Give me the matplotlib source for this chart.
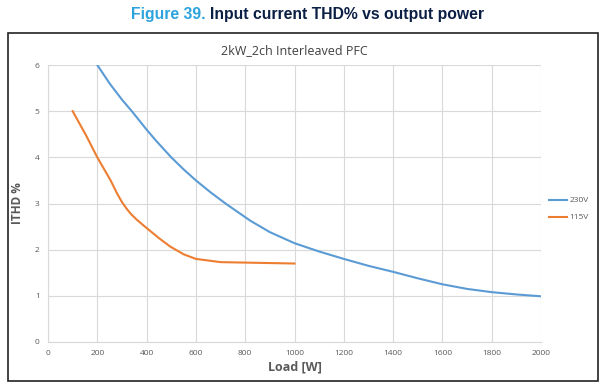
import numpy as np
import matplotlib.pyplot as plt
from matplotlib.patches import Rectangle

# data
load_230 = [200, 250, 300, 340, 400, 440, 500, 550, 600, 660, 720, 820, 900, 1000,
            1100, 1200, 1300, 1400, 1500, 1600, 1700, 1800, 1900, 2000]
thd_230 = [6.0, 5.6, 5.25, 5.0, 4.6, 4.35, 4.0, 3.74, 3.5, 3.24, 3.0, 2.63, 2.38, 2.14,
           1.96, 1.8, 1.65, 1.52, 1.38, 1.25, 1.15, 1.08, 1.03, 0.99]
load_115 = [100, 154, 200, 254, 280, 300, 320, 337, 360, 393, 450, 495, 550, 600,
            700, 800, 900, 1000]
thd_115 = [5.0, 4.48, 4.0, 3.5, 3.22, 3.03, 2.88, 2.77, 2.65, 2.5, 2.25, 2.07, 1.9, 1.8,
           1.73, 1.72, 1.71, 1.70]

x_ticks = np.arange(0, 2001, 200)
y_ticks = np.arange(0, 7, 1)

plt.rcParams['font.family'] = ['Open Sans', 'DejaVu Sans']

fig = plt.figure(figsize=(6.15, 3.87), dpi=100)
ax = fig.add_axes([48/615, 1-342/387, 493/615, 277/387])

ax.plot(load_230, thd_230, color='#5B9BD5', lw=1.5, label='230V')
ax.plot(load_115, thd_115, color='#ED7D31', lw=1.5, label='115V')

ax.set_xlim(0, 2000)
ax.set_ylim(0, 6)
ax.set_xticks(x_ticks)
ax.set_yticks(y_ticks)
ax.tick_params(length=0, labelsize=6, colors='#595959', pad=6)
ax.grid(True, color='#D9D9D9', lw=0.8)
for s in ['top', 'right']:
    ax.spines[s].set_visible(False)
for s in ['left', 'bottom']:
    ax.spines[s].set_color('#D9D9D9')
ax.set_axisbelow(True)

ax.set_xlabel('Load [W]', fontsize=9, fontweight='bold', color='#595959', labelpad=2)
ax.set_ylabel('ITHD %', fontsize=8.5, fontweight='bold', color='#595959', labelpad=8)
ax.set_title('2kW_2ch Interleaved PFC', fontsize=9, color='#404040', pad=8)

ax.legend(loc='center left', bbox_to_anchor=(1.0, 0.48), frameon=False, fontsize=6,
          handlelength=2.2, handletextpad=0.3, labelspacing=1.1, labelcolor='#595959')

# outer chart frame
fig.patches.append(Rectangle((8/615, 1-381/387), 590/615, 348/387, transform=fig.transFigure,
                             fill=False, edgecolor='#222222', lw=1.2))

# figure caption
fig.text(206/615, 1-14/387, 'Figure 39.', ha='right', va='center', fontsize=11.3,
         fontweight='bold', color='#2CA3DC', family=['Liberation Sans'])
fig.text(210/615, 1-14/387, 'Input current THD% vs output power', ha='left', va='center',
         fontsize=11.3, fontweight='bold', color='#0B1F44', family=['Liberation Sans'])

fig.savefig('out.png', dpi=100)
